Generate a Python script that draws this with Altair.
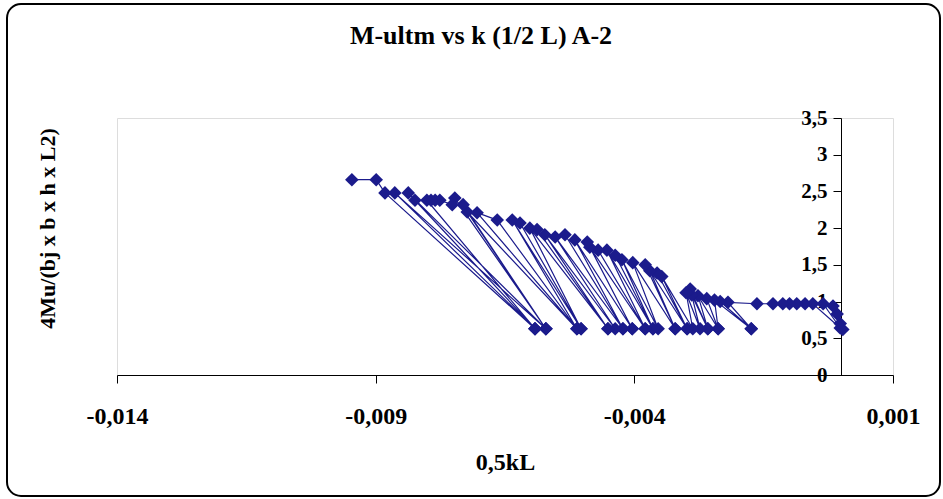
import altair as alt
import pandas as pd

# ordered test path (0.5kL, normalized moment)
x_vals = [0.00003, -0.00002, -0.00008, -0.00016, -0.00035, -0.00002, -0.00055, -0.00070, -0.00086, -0.00100,
          -0.00113, -0.00132, -0.00163, -0.00219, -0.00174, -0.00234, -0.00174, -0.00245, -0.00238, -0.00260,
          -0.00238, -0.00277, -0.00258, -0.00289, -0.00258, -0.00292, -0.00273, -0.00300, -0.00287, -0.00347,
          -0.00298, -0.00356, -0.00298, -0.00370, -0.00321, -0.00379, -0.00321, -0.00403, -0.00354, -0.00424,
          -0.00364, -0.00437, -0.00364, -0.00453, -0.00379, -0.00470, -0.00379, -0.00486, -0.00404, -0.00491,
          -0.00404, -0.00515, -0.00422, -0.00534, -0.00422, -0.00553, -0.00437, -0.00573, -0.00451, -0.00588,
          -0.00451, -0.00602, -0.00503, -0.00621, -0.00503, -0.00636, -0.00511, -0.00665, -0.00704, -0.00511,
          -0.00723, -0.00571, -0.00731, -0.00571, -0.00747, -0.00752, -0.00776, -0.00785, -0.00793, -0.00801,
          -0.00592, -0.00824, -0.00592, -0.00837, -0.00571, -0.00863, -0.00592, -0.00882, -0.00899, -0.00946]
y_vals = [0.62, 0.70, 0.83, 0.94, 0.97, 0.64, 0.97, 0.97, 0.97, 0.97,
          0.97, 0.97, 0.97, 0.99, 0.63, 1.00, 0.63, 1.02, 0.63, 1.04,
          0.63, 1.08, 0.63, 1.09, 0.63, 1.17, 0.63, 1.12, 0.63, 1.34,
          0.63, 1.39, 0.63, 1.42, 0.63, 1.50, 0.63, 1.53, 0.63, 1.57,
          0.63, 1.63, 0.63, 1.70, 0.63, 1.70, 0.63, 1.74, 0.63, 1.81,
          0.63, 1.84, 0.63, 1.91, 0.63, 1.88, 0.63, 1.91, 0.63, 1.98,
          0.63, 2.00, 0.63, 2.07, 0.63, 2.11, 0.63, 2.11, 2.21, 0.63,
          2.22, 0.63, 2.32, 0.63, 2.41, 2.32, 2.38, 2.38, 2.38, 2.38,
          0.63, 2.38, 0.63, 2.48, 0.63, 2.48, 0.63, 2.48, 2.66, 2.66]

x_ticks = [-0.014, -0.009, -0.004, 0.001]
y_ticks = [0.0, 0.5, 1.0, 1.5, 2.0, 2.5, 3.0, 3.5]

df = pd.DataFrame({"i": list(range(len(x_vals))), "x": x_vals, "y": y_vals})

W, H = 776, 257
NAVY = "#1b1b8c"
FONT = "Liberation Serif"

xaxis = alt.Axis(values=x_ticks, grid=False, title="0,5kL",
                 labelExpr="(datum.value < 0 ? '-' : '') + replace(format(abs(datum.value), '.3f'), '.', ',')",
                 tickSize=8, labelPadding=21, domainColor="black", tickColor="black",
                 labelOverlap=False, labelFlush=False,
                 labelFont=FONT, labelFontSize=24, labelFontWeight="bold", labelColor="black",
                 titleFont=FONT, titleFontSize=24, titleFontWeight="bold", titleColor="black",
                 titleY=87, titleBaseline="middle")
yaxis = alt.Axis(values=y_ticks, tickCount=8, grid=False, title="4Mu/(bj x b x h x L2)",
                 offset=-724,
                 labelExpr="replace(format(datum.value, '.1~f'), '.', ',')",
                 tickSize=8, labelPadding=6, domainColor="black", tickColor="black",
                 labelOverlap=False, labelFlush=False, labelBound=False,
                 labelFont=FONT, labelFontSize=21, labelFontWeight="bold", labelColor="black",
                 titleFont=FONT, titleFontSize=22, titleFontWeight="bold", titleColor="black",
                 titleX=-794, titleY=110, titleAngle=-90, titleBaseline="middle",
                 titleAlign="center")

xenc = alt.X("x:Q", scale=alt.Scale(domain=[-0.014, 0.001], nice=False, zero=False), axis=xaxis)
yenc = alt.Y("y:Q", scale=alt.Scale(domain=[0, 3.5], nice=False), axis=yaxis)

base = alt.Chart(df)
line = base.mark_line(color=NAVY, strokeWidth=1.2).encode(x=xenc, y=yenc, order="i:Q")
pts = base.mark_point(shape="diamond", filled=True, color=NAVY, size=185, opacity=1).encode(x=xenc, y=yenc)

frame = alt.Chart(pd.DataFrame({"a": [0]})).mark_rect(
    filled=False, stroke="black", strokeWidth=2, cornerRadius=14, clip=False
).encode(x=alt.value(-110), x2=alt.value(823), y=alt.value(-114), y2=alt.value(378))

chart = alt.layer(frame, line, pts).properties(
    width=W, height=H,
    autosize="none",
    padding={"left": 117, "top": 118, "right": 50, "bottom": 124},
    title=alt.TitleParams("M-ultm vs k (1/2 L) A-2", font=FONT, fontSize=26, fontWeight="bold",
                          color="black", offset=0, baseline="alphabetic", dy=67, dx=-24,
                          frame="group", anchor="middle"),
).configure_view(stroke="#808080", strokeWidth=1).configure(background="white")

chart.save("out.html", embed_options={"renderer": "svg", "actions": False})
